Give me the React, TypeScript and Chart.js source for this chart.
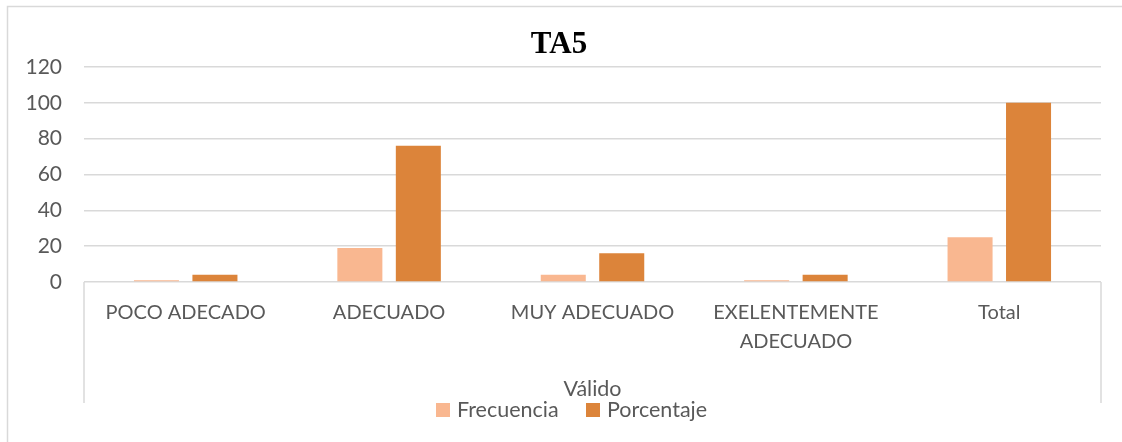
import React, { useEffect, useRef } from "react";
import { Chart, registerables } from "chart.js";

Chart.register(...registerables);

const chartTitle = "TA5";
const categories: string[][] = [
  ["POCO ADECADO"],
  ["ADECUADO"],
  ["MUY ADECUADO"],
  ["EXELENTEMENTE", "ADECUADO"],
  ["Total"],
];
const groupLabel = "Válido";
const seriesNames = ["Frecuencia", "Porcentaje"];
const frecuencia = [1, 19, 4, 1, 25];
const porcentaje = [4, 76, 16, 4, 100];
const yMin = 0;
const yMax = 120;
const yStep = 20;

const COLORS = ["#F9B790", "#DC843A"];
const GRID = "#D9D9D9";
const TEXT = "#595959";
const FONT = "Lato";

const decor = {
  id: "decor",
  afterDraw(chart: any) {
    const { ctx, chartArea } = chart;
    const { left, right, bottom } = chartArea;
    ctx.save();
    // outer border (left + top)
    ctx.strokeStyle = GRID;
    ctx.lineWidth = 1.5;
    ctx.beginPath();
    ctx.moveTo(7.5, 442);
    ctx.lineTo(7.5, 6.5);
    ctx.lineTo(1122, 6.5);
    ctx.stroke();
    // category axis outer lines
    ctx.beginPath();
    ctx.moveTo(left, bottom);
    ctx.lineTo(left, 403);
    ctx.moveTo(right, bottom);
    ctx.lineTo(right, 403);
    ctx.stroke();
    // title
    ctx.fillStyle = "#000";
    ctx.font = `bold 31px "Liberation Serif"`;
    ctx.textAlign = "center";
    ctx.textBaseline = "middle";
    ctx.fillText(chartTitle, 559, 45);
    // group label
    ctx.fillStyle = TEXT;
    ctx.font = `21.5px ${FONT}`;
    ctx.fillText(groupLabel, (left + right) / 2, 389);
    // legend
    const items = [
      { x: 436, text: seriesNames[0], color: COLORS[0] },
      { x: 586, text: seriesNames[1], color: COLORS[1] },
    ];
    ctx.textAlign = "left";
    for (const it of items) {
      ctx.fillStyle = it.color;
      ctx.fillRect(it.x, 403, 14, 14);
      ctx.fillStyle = TEXT;
      ctx.fillText(it.text, it.x + 21, 410);
    }
    ctx.restore();
  },
};

export default function App() {
  const ref = useRef<HTMLCanvasElement | null>(null);
  useEffect(() => {
    if (!ref.current) return;
    const chart = new Chart(ref.current, {
      type: "bar",
      data: {
        labels: categories,
        datasets: [
          {
            label: seriesNames[0],
            data: frecuencia,
            backgroundColor: COLORS[0],
            categoryPercentage: 0.575,
            barPercentage: 0.77,
          },
          {
            label: seriesNames[1],
            data: porcentaje,
            backgroundColor: COLORS[1],
            categoryPercentage: 0.575,
            barPercentage: 0.77,
          },
        ],
      },
      options: {
        animation: false,
        responsive: false,
        maintainAspectRatio: false,
        layout: { padding: { left: 0, top: 67, right: 21, bottom: 0 } },
        plugins: {
          legend: { display: false },
          title: { display: false },
          tooltip: { enabled: false },
        },
        scales: {
          x: {
            grid: { display: false, drawTicks: false },
            border: { display: false },
            ticks: {
              color: TEXT,
              font: { family: FONT, size: 20, lineHeight: 1.45 },
              padding: 16,
              maxRotation: 0,
              autoSkip: false,
            },
            afterFit: (s: any) => {
              s.height = 160;
            },
          },
          y: {
            min: yMin,
            max: yMax,
            grid: { color: GRID, lineWidth: 1.5, drawTicks: false },
            border: { display: false },
            ticks: {
              stepSize: yStep,
              color: TEXT,
              font: { family: FONT, size: 21 },
              padding: 22,
            },
            afterFit: (s: any) => {
              s.width = 84;
            },
          },
        },
      },
      plugins: [decor],
    });
    return () => chart.destroy();
  }, []);
  return (
    <div style={{ position: "fixed", left: 0, top: 0, width: 1122, height: 442, background: "#fff" }}>
      <canvas ref={ref} width={1122} height={442} style={{ display: "block" }} />
    </div>
  );
}
